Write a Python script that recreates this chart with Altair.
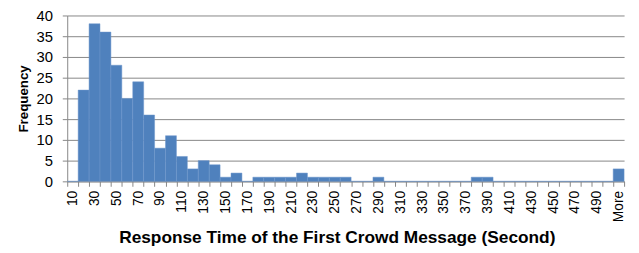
import altair as alt
import pandas as pd

bins = [str(v) for v in range(10, 510, 10)] + ["More"]
freq = [0, 22, 38, 36, 28, 20, 24, 16, 8, 11,
        6, 3, 5, 4, 1, 2, 0, 1, 1, 1,
        1, 2, 1, 1, 1, 1, 0, 0, 1, 0,
        0, 0, 0, 0, 0, 0, 0, 1, 1, 0,
        0, 0, 0, 0, 0, 0, 0, 0, 0, 0,
        3]
shown_labels = bins[0:50:2] + ["More"]

df = pd.DataFrame({"bin": bins, "freq": freq})

label_list = "[" + ",".join("'" + s + "'" for s in shown_labels) + "]"

grid_col = "#868686"

chart = alt.Chart(df).mark_bar(color="#4F81BD", stroke="#6E97CB", strokeWidth=0.5).encode(
    x=alt.X("bin:N", sort=bins,
            scale=alt.Scale(paddingInner=0, paddingOuter=0),
            axis=alt.Axis(title="Response Time of the First Crowd Message (Second)",
                          labelExpr="indexof(" + label_list + ", datum.label) >= 0 ? datum.label : ''",
                          labelAngle=-90, labelAlign="right", labelBaseline="middle",
                          labelFontSize=14, labelFont="Liberation Sans", labelColor="black",
                          labelPadding=4,
                          tickBand="extent", tickSize=5, tickColor=grid_col,
                          domainColor=grid_col, grid=False,
                          titleFont="Liberation Sans", titleFontSize=17.5, titleFontWeight="bold",
                          titleColor="black", titlePadding=7, titleX=273)),
    y=alt.Y("freq:Q", scale=alt.Scale(domain=[0, 40], nice=False),
            axis=alt.Axis(title="Frequency", values=[0, 5, 10, 15, 20, 25, 30, 35, 40],
                          labelFontSize=15, labelFont="Liberation Sans", labelColor="black",
                          labelPadding=10, tickSize=5, tickColor=grid_col,
                          domainColor=grid_col, gridColor=grid_col, gridWidth=1,
                          titleFont="Liberation Sans", titleFontSize=13.5, titleFontWeight="bold",
                          titleColor="black", titlePadding=6)),
).properties(
    width=564, height=168,
    autosize=alt.AutoSizeParams(type="none"),
    padding={"left": 60, "top": 6, "right": 7, "bottom": 71},
).configure_view(stroke=None)

chart.save("out.html", embed_options={"renderer": "svg", "actions": False})
